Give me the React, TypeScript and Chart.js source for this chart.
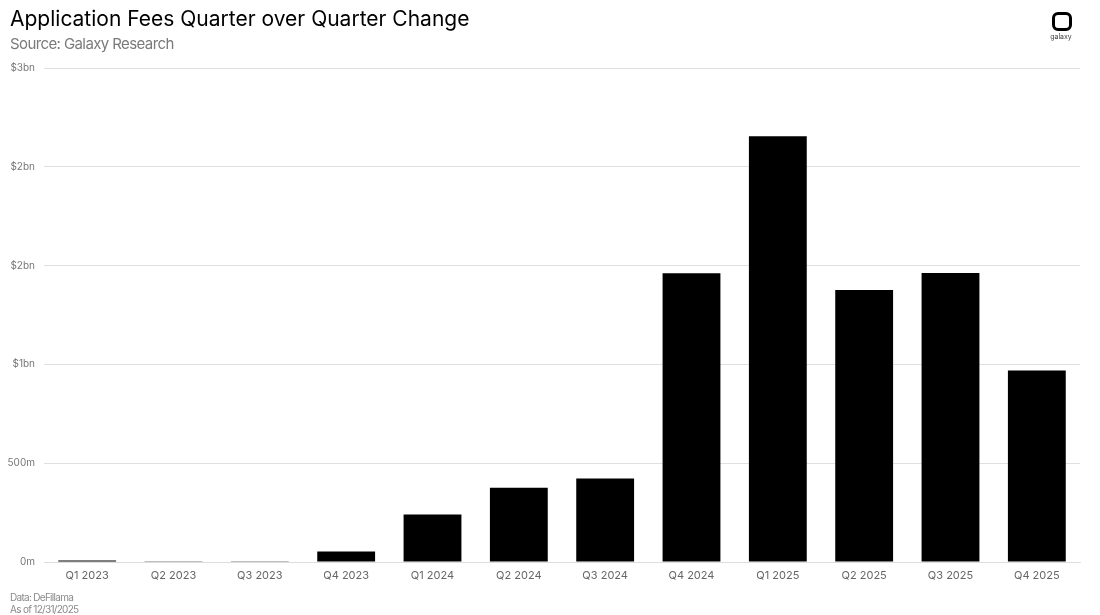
import React, { useEffect, useRef } from "react";
import { Chart, registerables } from "chart.js";

Chart.register(...registerables);

const categories = ["Q1 2023", "Q2 2023", "Q3 2023", "Q4 2023", "Q1 2024", "Q2 2024", "Q3 2024", "Q4 2024", "Q1 2025", "Q2 2025", "Q3 2025", "Q4 2025"];
const feesUsd = [8e6, 1e6, 4e6, 53e6, 240e6, 376e6, 422e6, 1461e6, 2154e6, 1376e6, 1462e6, 969e6];
const yTickValues = [0, 5e8, 1e9, 1.5e9, 2e9, 2.5e9];

const fmt = (v: number) => (v >= 1e9 ? "$" + Math.round(v / 1e9) + "bn" : Math.round(v / 1e6) + "m");

export default function App() {
  const ref = useRef<HTMLCanvasElement>(null);
  useEffect(() => {
    document.body.style.margin = "0";
    const chart = new Chart(ref.current!, {
      type: "bar",
      data: {
        labels: categories,
        datasets: [
          {
            data: feesUsd,
            backgroundColor: "#000000",
            borderWidth: 0,
            categoryPercentage: 1,
            barPercentage: 0.67,
          },
        ],
      },
      options: {
        animation: false,
        responsive: false,
        maintainAspectRatio: false,
        layout: { padding: { left: 0, top: 68, right: 20, bottom: 23 } },
        plugins: { legend: { display: false }, tooltip: { enabled: false } },
        scales: {
          x: {
            grid: { display: false },
            border: { display: true, color: "#dddddd", width: 1 },
            ticks: { color: "#666666", font: { family: "Inter", size: 11 }, padding: -1, maxRotation: 0 },
            afterFit: (s: any) => {
              s.height = 30;
            },
          },
          y: {
            min: 0,
            max: 2.5e9,
            afterBuildTicks: (s: any) => {
              s.ticks = yTickValues.map((v) => ({ value: v }));
            },
            grid: { color: "#e0e0e0", drawTicks: false },
            border: { display: false },
            ticks: {
              color: "#777777",
              font: { family: "Inter", size: 10 },
              padding: 9,
              callback: (v: any) => fmt(Number(v)),
            },
            afterFit: (s: any) => {
              s.width = 44;
            },
          },
        },
      },
    });
    return () => chart.destroy();
  }, []);

  return (
    <div style={{ position: "relative", width: 1100, height: 615, background: "#fff", fontFamily: "Inter, sans-serif", overflow: "hidden" }}>
      <canvas ref={ref} width={1100} height={615} style={{ position: "absolute", left: 0, top: 0 }} />
      <div style={{ position: "absolute", left: 10, top: 6, fontSize: 21, color: "#000", letterSpacing: 0, whiteSpace: "nowrap" }}>
        Application Fees Quarter over Quarter Change
      </div>
      <div style={{ position: "absolute", left: 10, top: 34, fontSize: 15, color: "#7a7a7a", letterSpacing: -0.6, whiteSpace: "nowrap" }}>
        Source: Galaxy Research
      </div>
      <div style={{ position: "absolute", left: 10, top: 591, fontSize: 10, color: "#8a8a8a", letterSpacing: -0.7, lineHeight: "12px", whiteSpace: "nowrap" }}>
        Data: DeFillama
        <br />
        As of 12/31/2025
      </div>
      <div style={{ position: "absolute", left: 1052, top: 12, width: 14, height: 13, border: "3px solid #000", borderRadius: 6 }} />
      <div style={{ position: "absolute", left: 1048, top: 32, width: 26, textAlign: "center", fontSize: 7, color: "#444" }}>galaxy</div>
    </div>
  );
}
